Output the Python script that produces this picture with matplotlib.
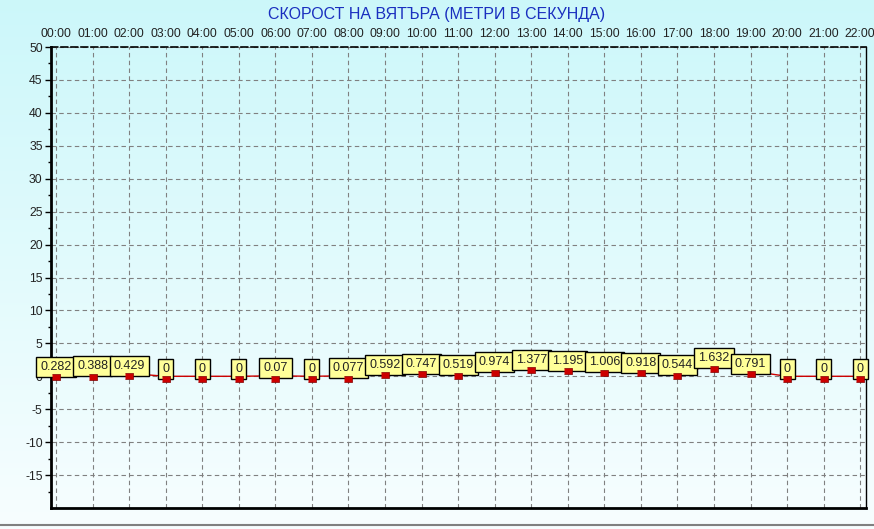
import numpy as np
import matplotlib.pyplot as plt
from matplotlib.lines import Line2D

hours = ["00:00", "01:00", "02:00", "03:00", "04:00", "05:00", "06:00", "07:00",
         "08:00", "09:00", "10:00", "11:00", "12:00", "13:00", "14:00", "15:00",
         "16:00", "17:00", "18:00", "19:00", "20:00", "21:00", "22:00"]
wind = [0.282, 0.388, 0.429, 0, 0, 0, 0.07, 0, 0.077, 0.592, 0.747, 0.519,
        0.974, 1.377, 1.195, 1.006, 0.918, 0.544, 1.632, 0.791, 0, 0, 0]
yticks = list(range(-15, 51, 5))
title = "СКОРОСТ НА ВЯТЪРА (МЕТРИ В СЕКУНДА)"

plt.rcParams["font.family"] = ["Liberation Sans", "DejaVu Sans"]
plt.rcParams["axes.unicode_minus"] = False

W, H = 874, 529
fig = plt.figure(figsize=(W / 100, H / 100), dpi=100)

# background gradient over whole figure
bg = fig.add_axes([0, 0, 1, 1], zorder=-10)
grad = np.linspace(0, 1, 256).reshape(-1, 1)
top_c = np.array([0.80, 0.97, 0.98])
bot_c = np.array([0.97, 0.995, 1.0])
img = top_c * (1 - grad[..., None]) + bot_c * grad[..., None]
img = np.repeat(img, 2, axis=1)
bg.imshow(img, aspect="auto", extent=[0, 1, 0, 1])
bg.axis("off")
fig.add_artist(Line2D([0, 1], [4 / H, 4 / H], color="#808080", lw=1.5))

ax = fig.add_axes([51 / W, (H - 508) / H, (866 - 51) / W, (508 - 47) / H])
ax.patch.set_alpha(0)
x = np.arange(len(hours))
ax.set_xlim(-0.14, len(hours) - 1 + 0.16)
ax.set_ylim(-20, 50)

ax.plot(x, wind, color="#cc0000", lw=1, zorder=3)
rect = [(-1.6, -1), (1.6, -1), (1.6, 1), (-1.6, 1)]
ax.plot(x, np.array(wind) - 0.45, ls="none", marker=rect, ms=6,
        mfc="#cc0000", mec="#800000", mew=0.5, zorder=6)

for xi, v in zip(x, wind):
    ax.annotate(f"{v:g}", (xi, v), xytext=(0, 1), textcoords="offset points",
                ha="center", va="bottom", fontsize=9, color="#222222", zorder=5,
                bbox=dict(boxstyle="square,pad=0.32", fc="#ffff99", ec="black", lw=1))

ax.set_yticks(yticks)
ax.set_yticks(np.arange(-17.5, 50, 5), minor=True)
ax.set_xticks(x)
ax.set_xticklabels(hours)
ax.xaxis.tick_top()
ax.tick_params(axis="x", length=0, pad=5, labelsize=8.8, labelcolor="#222222")
ax.tick_params(axis="y", which="major", length=4, width=1, pad=2, labelsize=8.8,
               labelcolor="#222222")
ax.tick_params(axis="y", which="minor", length=2, width=1)
ax.grid(True, ls=(0, (4, 3)), color="#808080", lw=0.8)

for s in ("left", "bottom"):
    ax.spines[s].set_linewidth(2)
ax.spines["top"].set_linestyle((0, (4, 2)))
ax.spines["top"].set_linewidth(1.2)
ax.spines["right"].set_linewidth(1)

fig.text(0.5, (H - 15) / H, title, ha="center", va="center",
         color="#1a2fbf", fontsize=11.5)

fig.savefig("out.png", dpi=100)
